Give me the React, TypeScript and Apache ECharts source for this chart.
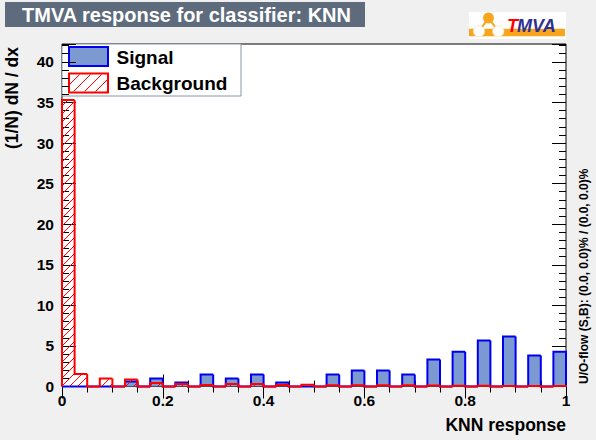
import React, { useEffect, useRef } from 'react';
import * as echarts from 'echarts';

const BIN_WIDTH = 0.025;
const signalValues = [
  0, 0, 0, 0, 0, 0.62, 0, 0.99, 0, 0.5,
  0, 1.48, 0, 0.99, 0, 1.48, 0, 0.5, 0, 0,
  0, 1.48, 0, 1.98, 0, 1.98, 0, 1.48, 0, 3.33,
  0, 4.28, 0, 5.68, 0, 6.17, 0, 3.83, 0, 4.28,
];
const backgroundValues = [
  35.3, 1.53, 0, 0.99, 0, 0.86, 0, 0.42, 0, 0.3,
  0, 0.17, 0, 0.3, 0, 0.3, 0, 0.17, 0, 0.22,
  0, 0.15, 0, 0.15, 0, 0.15, 0, 0.15, 0, 0.12,
  0, 0.1, 0, 0.08, 0, 0.06, 0, 0.06, 0, 0.06,
];
const xTickLabels = ['0', '0.2', '0.4', '0.6', '0.8', '1'];
const yTickLabels = ['0', '5', '10', '15', '20', '25', '30', '35', '40'];
const Y_MAX = 42.2;

const FONT = 'Liberation Sans, Arial, Helvetica, sans-serif';
const SIG_FILL = '#7d99d1';
const SIG_LINE = '#0000ee';
const BKG_LINE = '#ff0000';

function hatchLines(xa: number, ya: number, xb: number, yb: number, period: number, color: string) {
  const out: any[] = [];
  for (let k = Math.ceil((xa + ya) / period); k * period <= xb + yb; k++) {
    const s = k * period;
    const xs = Math.max(xa, s - yb);
    const xe = Math.min(xb, s - ya);
    if (xe > xs) {
      out.push({
        type: 'line',
        shape: { x1: xs, y1: s - xs, x2: xe, y2: s - xe },
        style: { stroke: color, lineWidth: 1 },
        silent: true,
      });
    }
  }
  return out;
}

function buildData(values: number[]) {
  return values.map((v, i) => [
    i * BIN_WIDTH,
    (i + 1) * BIN_WIDTH,
    v,
    i > 0 ? values[i - 1] : 0,
    i === values.length - 1 ? 1 : 0,
  ]);
}

function makeRender(fill: string | null, stroke: string, hatch: string | null) {
  return (params: any, api: any) => {
    const x0 = api.value(0);
    const x1 = api.value(1);
    const v = api.value(2);
    const prev = api.value(3);
    const last = api.value(4);
    const pb = api.coord([x0, 0]);
    const pt = api.coord([x1, v]);
    const pp = api.coord([x0, prev]);
    const pe = api.coord([x1, 0]);
    const children: any[] = [];
    const h = pb[1] - pt[1];
    if (h > 0.3) {
      if (fill) {
        children.push({
          type: 'rect',
          shape: { x: pb[0], y: pt[1], width: pt[0] - pb[0], height: h },
          style: { fill },
        });
      }
      if (hatch) {
        children.push(...hatchLines(pb[0], pt[1], pt[0], pb[1], 8, hatch));
      }
    }
    const pts: number[][] = [
      [pp[0], pp[1]],
      [pb[0], pt[1]],
      [pt[0], pt[1]],
    ];
    if (last) pts.push([pe[0], pe[1]]);
    children.push({
      type: 'polyline',
      shape: { points: pts },
      style: { stroke, lineWidth: 2, fill: 'none', lineJoin: 'miter' },
    });
    return { type: 'group', children };
  };
}

function tickAxis(extra: any) {
  return {
    type: 'value',
    axisLine: { show: false },
    splitLine: { show: false },
    axisLabel: { show: false },
    axisPointer: { show: false },
    ...extra,
    axisTick: {
      show: true,
      inside: true,
      lineStyle: { color: '#000', width: 1 },
      ...(extra.axisTick || {}),
    },
  };
}

export default function App() {
  const ref = useRef<HTMLDivElement>(null);

  useEffect(() => {
    if (!ref.current) return;
    const chart = echarts.init(ref.current, null, { renderer: 'svg', width: 596, height: 440 });

    const xBase = { min: 0, max: 1, interval: 0.2 };
    const yBase = { min: 0, max: Y_MAX };

    const legendBox = { x: 62, y: 44, w: 179, h: 52 };

    const option: any = {
      animation: false,
      backgroundColor: '#f0f0f0',
      grid: {
        left: 62,
        top: 44,
        width: 504,
        height: 342.5,
        show: true,
        backgroundColor: '#ffffff',
        borderColor: '#000000',
        borderWidth: 1,
        outerBoundsMode: 'none',
        containLabel: false,
      },
      xAxis: [
        tickAxis({
          ...xBase,
          position: 'bottom',
          axisTick: { length: 12 },
          minorTick: { show: true, splitNumber: 4, length: 6, lineStyle: { color: '#000', width: 1 } },
          axisLabel: {
            show: true,
            color: '#000',
            fontFamily: FONT,
            fontWeight: 'bold',
            fontSize: 15.5,
            margin: 6,
            formatter: (v: number) => {
              const i = Math.round(v / 0.2);
              return Math.abs(v - i * 0.2) < 1e-6 ? xTickLabels[i] ?? '' : '';
            },
          },
        }),
        tickAxis({
          ...xBase,
          position: 'top',
          axisTick: { length: 12 },
          minorTick: { show: true, splitNumber: 4, length: 6, lineStyle: { color: '#000', width: 1 } },
        }),
      ],
      yAxis: [
        tickAxis({
          ...yBase,
          interval: 5,
          position: 'left',
          axisTick: { length: 14 },
          axisLabel: {
            show: true,
            color: '#000',
            fontFamily: FONT,
            fontWeight: 'bold',
            fontSize: 15.5,
            margin: 8,
            formatter: (v: number) => {
              const i = Math.round(v / 5);
              return Math.abs(v - i * 5) < 1e-6 ? yTickLabels[i] ?? '' : '';
            },
          },
        }),
        tickAxis({ ...yBase, interval: 1, position: 'left', axisTick: { length: 7 } }),
        tickAxis({ ...yBase, interval: 5, position: 'right', axisTick: { length: 14 } }),
        tickAxis({ ...yBase, interval: 1, position: 'right', axisTick: { length: 7 } }),
      ],
      series: [
        {
          type: 'custom',
          name: 'Signal',
          xAxisIndex: 0,
          yAxisIndex: 0,
          silent: true,
          dimensions: ['lo', 'hi', 'v', 'prev', 'last'],
          encode: { x: [0, 1], y: 2 },
          data: buildData(signalValues),
          renderItem: makeRender(SIG_FILL, SIG_LINE, null),
        },
        {
          type: 'custom',
          name: 'Background',
          xAxisIndex: 0,
          yAxisIndex: 0,
          silent: true,
          dimensions: ['lo', 'hi', 'v', 'prev', 'last'],
          encode: { x: [0, 1], y: 2 },
          data: buildData(backgroundValues),
          renderItem: makeRender(null, BKG_LINE, BKG_LINE),
        },
      ],
      graphic: [
        // title box
        {
          type: 'rect',
          shape: { x: 5, y: 2, width: 360, height: 25 },
          style: { fill: '#5d6b7d' },
          silent: true,
        },
        {
          type: 'text',
          x: 22,
          y: 14.5,
          style: {
            text: 'TMVA response for classifier: KNN',
            fill: '#ffffff',
            fontFamily: FONT,
            fontWeight: 'bold',
            fontSize: 20,
            align: 'left',
            verticalAlign: 'middle',
          },
          silent: true,
        },
        // TMVA logo
        {
          type: 'rect',
          shape: { x: 469, y: 12, width: 97, height: 27 },
          style: { fill: '#ffffff' },
          silent: true,
        },
        {
          type: 'rect',
          shape: { x: 469, y: 28.7, width: 96, height: 7.6 },
          style: { fill: '#f8a51e' },
          silent: true,
        },
        {
          type: 'polyline',
          shape: { points: [[479, 31.3], [488.5, 18], [498.3, 31.3]] },
          style: { stroke: '#f8a51e', lineWidth: 2, fill: 'none' },
          silent: true,
        },
        {
          type: 'circle',
          shape: { cx: 488.5, cy: 18, r: 5.4 },
          style: { fill: '#f8a51e' },
          silent: true,
        },
        {
          type: 'circle',
          shape: { cx: 479, cy: 31.3, r: 5.6 },
          style: { fill: '#ffffff', stroke: '#fbe3b8', lineWidth: 0.8 },
          silent: true,
        },
        {
          type: 'circle',
          shape: { cx: 498.3, cy: 31.3, r: 5.6 },
          style: { fill: '#ffffff', stroke: '#fbe3b8', lineWidth: 0.8 },
          silent: true,
        },
        {
          type: 'text',
          x: 507,
          y: 25.5,
          style: {
            text: 'T',
            fill: '#ff0000',
            fontFamily: FONT,
            fontWeight: 'bold',
            fontStyle: 'italic',
            fontSize: 18,
            align: 'left',
            verticalAlign: 'middle',
          },
          silent: true,
        },
        {
          type: 'text',
          x: 517,
          y: 25.5,
          style: {
            text: 'MVA',
            fill: '#2e3192',
            fontFamily: FONT,
            fontWeight: 'bold',
            fontStyle: 'italic',
            fontSize: 18,
            align: 'left',
            verticalAlign: 'middle',
          },
          silent: true,
        },
        // legend
        {
          type: 'rect',
          shape: { x: legendBox.x, y: legendBox.y, width: legendBox.w, height: legendBox.h },
          style: { fill: '#ffffff', stroke: '#8a96a6', lineWidth: 1 },
          silent: true,
        },
        {
          type: 'rect',
          shape: { x: 69, y: 47, width: 39, height: 19 },
          style: { fill: SIG_FILL, stroke: SIG_LINE, lineWidth: 2 },
          silent: true,
        },
        ...hatchLines(70, 74.5, 107, 91.5, 11, BKG_LINE),
        {
          type: 'rect',
          shape: { x: 69, y: 73.5, width: 39, height: 19 },
          style: { fill: 'none', stroke: BKG_LINE, lineWidth: 2 },
          silent: true,
        },
        {
          type: 'text',
          x: 116.5,
          y: 57,
          style: {
            text: 'Signal',
            fill: '#000',
            fontFamily: FONT,
            fontWeight: 'bold',
            fontSize: 19,
            align: 'left',
            verticalAlign: 'middle',
          },
          silent: true,
        },
        {
          type: 'text',
          x: 116.5,
          y: 83.5,
          style: {
            text: 'Background',
            fill: '#000',
            fontFamily: FONT,
            fontWeight: 'bold',
            fontSize: 19,
            align: 'left',
            verticalAlign: 'middle',
          },
          silent: true,
        },
        // axis titles
        {
          type: 'text',
          x: 566,
          y: 425,
          style: {
            text: 'KNN response',
            fill: '#000',
            fontFamily: FONT,
            fontWeight: 'bold',
            fontSize: 17.5,
            align: 'right',
            verticalAlign: 'middle',
          },
          silent: true,
        },
        {
          type: 'text',
          x: 12,
          y: 47,
          rotation: Math.PI / 2,
          style: {
            text: '(1/N) dN / dx',
            fill: '#000',
            fontFamily: FONT,
            fontWeight: 'bold',
            fontSize: 17.5,
            align: 'right',
            verticalAlign: 'middle',
          },
          silent: true,
        },
        {
          type: 'text',
          x: 584,
          y: 384,
          rotation: Math.PI / 2,
          style: {
            text: 'U/O-flow (S,B): (0.0, 0.0)% / (0.0, 0.0)%',
            fill: '#000',
            fontFamily: FONT,
            fontWeight: 'bold',
            fontSize: 12,
            align: 'left',
            verticalAlign: 'middle',
          },
          silent: true,
        },
      ],
    };

    chart.setOption(option);
    return () => {
      chart.dispose();
    };
  }, []);

  return (
    <div
      ref={ref}
      style={{ position: 'fixed', left: 0, top: 0, width: 596, height: 440 }}
    />
  );
}
